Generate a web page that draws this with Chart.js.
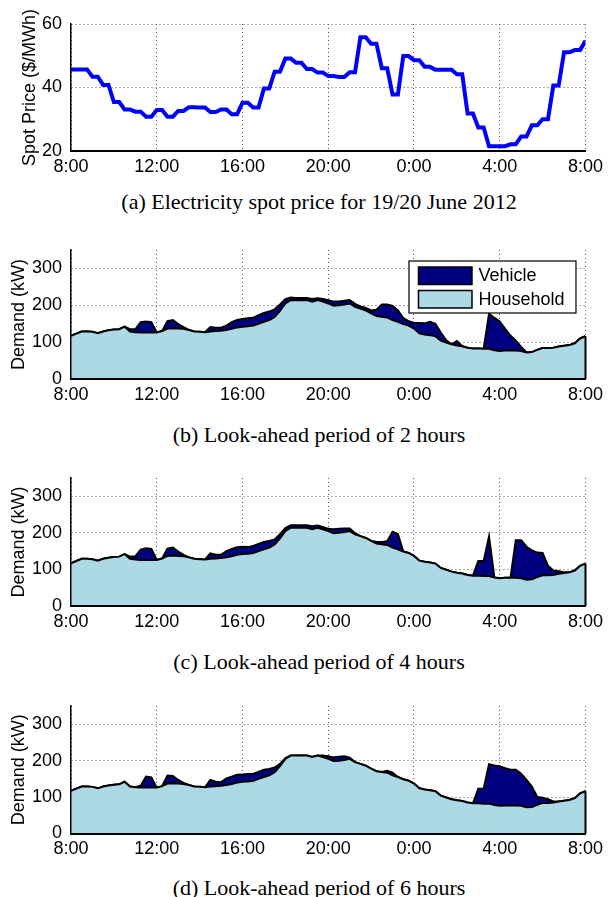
<!DOCTYPE html>
<html lang="en">
<head>
<meta charset="UTF-8">
<title>Spot price and charging demand</title>
<script src="https://cdn.jsdelivr.net/npm/chart.js"></script>
<style>
    body { margin: 0; background: #fff; }
    .page { position: relative; width: 608px; height: 897px; overflow: hidden; }
    .panel { position: absolute; left: 0; width: 608px; height: 185px; }
    .caption {
        position: absolute; left: 19px; width: 600px; text-align: center;
        font-family: "Liberation Serif", "Times New Roman", serif;
        font-size: 22px; line-height: 24px; color: #000;
    }
</style>
</head>
<body>
<div class="page">
    <div class="panel" style="top:0px"><canvas id="priceChart" width="608" height="185"></canvas></div>
    <div class="caption" style="top:190px">(a) Electricity spot price for 19/20 June 2012</div>

    <div class="panel" style="top:226px"><canvas id="demand2" width="608" height="185"></canvas></div>
    <div class="caption" style="top:423px">(b) Look-ahead period of 2 hours</div>

    <div class="panel" style="top:454px"><canvas id="demand4" width="608" height="185"></canvas></div>
    <div class="caption" style="top:650px">(c) Look-ahead period of 4 hours</div>

    <div class="panel" style="top:682px"><canvas id="demand6" width="608" height="185"></canvas></div>
    <div class="caption" style="top:876px">(d) Look-ahead period of 6 hours</div>
</div>

<script>
// x axis: hours after 8:00 on 19 June, in 15 minute steps
const quarterHours = Array.from({ length: 97 }, (_, i) => i / 4);
const tickLabels = ['8:00', '12:00', '16:00', '20:00', '0:00', '4:00', '8:00'];

// spot price ($/MWh), half-hourly prices held for two quarter-hours
const spotPrice = [
    45.7, 45.7, 45.7, 45.7, 43.4, 43.4, 40.8, 40.8, 35.4, 35.4,
    33.1, 33.1, 32.4, 32.4, 30.8, 30.8, 32.9, 32.9, 30.8, 30.8,
    32.6, 32.6, 33.8, 33.8, 33.7, 33.7, 32.3, 32.3, 33.1, 33.1,
    31.6, 31.6, 35.2, 35.2, 33.7, 33.7, 39.7, 39.7, 45.0, 45.0,
    49.1, 49.1, 47.8, 47.8, 45.8, 45.8, 44.7, 44.7, 43.6, 43.6,
    43.3, 43.3, 44.8, 44.8, 55.8, 55.8, 53.8, 53.8, 46.1, 46.1,
    37.8, 37.8, 49.9, 49.9, 48.6, 48.6, 46.5, 46.5, 45.6, 45.6,
    45.6, 45.6, 44.2, 44.2, 31.8, 31.8, 27.4, 27.4, 21.5, 21.5,
    21.5, 21.5, 22.1, 22.1, 24.6, 24.6, 28.1, 28.1, 30.0, 30.0,
    40.6, 40.6, 51.1, 51.1, 51.8, 51.8, 54.7
];

// household demand (kW), same in all three look-ahead cases
const household = [
    117, 123, 129, 129, 128, 124, 129, 132, 134, 135,
    142, 129, 127, 126, 126, 126, 126, 130, 137, 138,
    137, 136, 133, 129, 128, 127, 129, 130, 131, 133,
    136, 140, 142, 143, 145, 150, 155, 160, 168, 185,
    205, 214, 214, 214, 214, 210, 214, 210, 205, 199,
    200, 202, 205, 196, 191, 186, 178, 171, 169, 167,
    160, 155, 149, 145, 137, 124, 121, 119, 116, 104,
    99, 94, 91, 89, 85, 83, 83, 82, 82, 78,
    76, 77, 77, 77, 76, 72, 73, 79, 84, 84,
    85, 88, 90, 92, 97, 110, 116
];

// vehicle charging demand (kW) on top of household
const vehicle2h = [
    0, 0, 0, 0, 0, 0, 0, 0, 0, 0,
    0, 6, 8, 28, 30, 28, 0, 0, 20, 22,
    12, 5, 0, 0, 0, 0, 12, 9, 8, 12,
    18, 20, 21, 22, 21, 23, 24, 23, 21, 17,
    12, 7, 6, 6, 6, 7, 5, 7, 9, 11,
    10, 10, 9, 8, 6, 7, 8, 17, 33, 35,
    38, 31, 16, 12, 15, 28, 30, 36, 34, 22,
    6, 0, 12, 0, 0, 0, 0, 0, 95, 88,
    80, 59, 41, 27, 11, 0, 0, 0, 0, 0,
    0, 0, 0, 0, 0, 0, 0
];
const vehicle4h = [
    0, 0, 0, 0, 0, 0, 0, 0, 0, 0,
    0, 6, 9, 28, 32, 30, 0, 0, 20, 22,
    12, 4, 0, 0, 0, 0, 15, 10, 9, 17,
    20, 21, 20, 18, 19, 20, 20, 18, 14, 11,
    8, 7, 7, 7, 7, 8, 6, 6, 6, 11,
    11, 10, 7, 3, 0, 0, 0, 5, 6, 10,
    43, 42, 0, 0, 0, 0, 0, 0, 0, 0,
    0, 0, 0, 0, 0, 0, 40, 41, 108, 0,
    0, 0, 0, 103, 104, 90, 79, 67, 61, 26,
    12, 7, 2, 0, 0, 0, 0
];
const vehicle6h = [
    0, 0, 0, 0, 0, 0, 0, 0, 0, 0,
    0, 0, 0, 5, 30, 28, 0, 0, 22, 20,
    10, 3, 0, 0, 0, 0, 18, 12, 10, 18,
    20, 21, 20, 20, 19, 19, 20, 17, 13, 6,
    2, 0, 0, 0, 0, 0, 0, 4, 7, 10,
    11, 10, 3, 0, 0, 0, 0, 0, 0, 5,
    7, 0, 0, 0, 0, 0, 0, 0, 0, 0,
    0, 0, 0, 0, 0, 0, 40, 41, 108, 109,
    109, 102, 98, 98, 88, 75, 56, 21, 14, 10,
    3, 0, 0, 0, 0, 0, 0
];

Chart.defaults.font.family = '"Liberation Sans", Arial, sans-serif';
Chart.defaults.color = '#000';

const tickFont = { size: 18 };
const gridColor = '#555';

// closes the area on the right side and draws the boxed legend inside the plot
const boxLegend = {
    id: 'boxLegend',
    afterDatasetsDraw(chart, args, opts) {
        const { ctx, chartArea, scales } = chart;
        const top = chart.data.datasets[1].data;
        ctx.save();
        ctx.strokeStyle = '#000';
        ctx.lineWidth = 2;
        ctx.beginPath();
        ctx.moveTo(scales.x.getPixelForValue(24), scales.y.getPixelForValue(0));
        ctx.lineTo(scales.x.getPixelForValue(24), scales.y.getPixelForValue(top[top.length - 1]));
        ctx.stroke();
        ctx.restore();

        if (!opts.show) return;
        const left = chartArea.right - 176.5;
        const boxTop = chartArea.top + 11;
        ctx.save();
        ctx.fillStyle = '#fff';
        ctx.fillRect(left, boxTop, 167, 52);
        ctx.strokeStyle = '#000';
        ctx.lineWidth = 1.2;
        ctx.strokeRect(left, boxTop, 167, 52);
        const items = chart.data.datasets.slice().reverse();
        items.forEach((ds, i) => {
            const y = boxTop + 6 + i * 23.5;
            ctx.fillStyle = ds.backgroundColor;
            ctx.fillRect(left + 9.5, y, 53.5, 17.5);
            ctx.lineWidth = 1.5;
            ctx.strokeRect(left + 9.5, y, 53.5, 17.5);
            ctx.fillStyle = '#000';
            ctx.font = '18px "Liberation Sans", Arial, sans-serif';
            ctx.textBaseline = 'middle';
            ctx.fillText(ds.label, left + 69.5, y + 9.5);
        });
        ctx.restore();
    }
};

function xAxis(height) {
    return {
        type: 'linear',
        min: 0,
        max: 24,
        afterFit: s => { s.height = height; },
        ticks: {
            stepSize: 4,
            autoSkip: false,
            maxRotation: 0,
            padding: 5,
            font: tickFont,
            callback: (v, i) => tickLabels[i]
        },
        grid: { color: gridColor, lineWidth: 1, drawTicks: false },
        border: { color: '#000', width: 2, dash: [1, 3], z: 1 }
    };
}

function yAxis(min, max, step, title, titleOffset) {
    return {
        min: min,
        max: max,
        afterFit: s => { s.width = 71; },
        ticks: { stepSize: step, includeBounds: false, padding: 9, font: tickFont },
        grid: { color: gridColor, lineWidth: 1, drawTicks: false },
        border: { color: '#000', width: 1.5, dash: [1, 3], z: 1 },
        title: { display: true, text: title, font: { size: 18 }, padding: { top: titleOffset, bottom: 0 } }
    };
}

new Chart(document.getElementById('priceChart'), {
    type: 'line',
    data: {
        labels: quarterHours,
        datasets: [{
            label: 'Spot price',
            data: spotPrice,
            borderColor: '#0000ff',
            borderWidth: 4,
            pointRadius: 0,
            tension: 0,
            fill: false
        }]
    },
    options: {
        responsive: false,
        animation: false,
        layout: { padding: { top: 24, right: 18.5, left: 0, bottom: 0 } },
        plugins: { legend: { display: false }, tooltip: { enabled: false } },
        scales: {
            x: xAxis(34),
            y: yAxis(20, 60, 20, 'Spot Price ($/MWh)', 19)
        }
    }
});

function demandChart(id, vehicle, axisHeight, showLegend) {
    const total = household.map((v, i) => v + vehicle[i]);
    return new Chart(document.getElementById(id), {
        type: 'line',
        data: {
            labels: quarterHours,
            datasets: [
                {
                    label: 'Household',
                    data: household,
                    borderColor: '#000',
                    borderWidth: 2,
                    backgroundColor: '#add8e6',
                    fill: 'origin',
                    pointRadius: 0,
                    tension: 0
                },
                {
                    label: 'Vehicle',
                    data: total,
                    borderColor: '#000',
                    borderWidth: 2,
                    backgroundColor: '#000080',
                    fill: '-1',
                    pointRadius: 0,
                    tension: 0
                }
            ]
        },
        options: {
            responsive: false,
            animation: false,
            layout: { padding: { top: 24, right: 18.5, left: 0, bottom: 0 } },
            plugins: {
                legend: { display: false },
                tooltip: { enabled: false },
                boxLegend: { show: showLegend }
            },
            scales: {
                x: xAxis(axisHeight),
                y: yAxis(0, 350, 100, 'Demand (kW)', 8)
            }
        },
        plugins: [boxLegend]
    });
}

demandChart('demand2', vehicle2h, 32, true);
demandChart('demand4', vehicle4h, 33, false);
demandChart('demand6', vehicle6h, 33.5, false);
</script>
</body>
</html>
